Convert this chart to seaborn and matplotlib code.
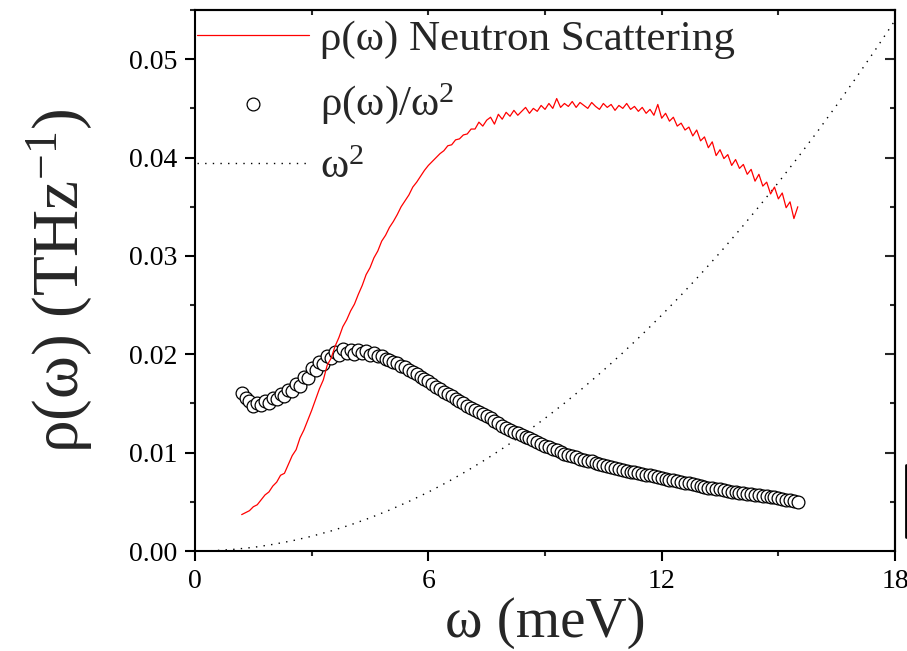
import matplotlib
matplotlib.use('Agg')
import matplotlib.pyplot as plt
import seaborn as sns
import numpy as np
from matplotlib.lines import Line2D
from matplotlib.ticker import MultipleLocator

# energy grid (meV)
omega = [1.2, 1.3, 1.4, 1.5, 1.6, 1.7, 1.8, 1.9, 2.0, 2.1,
         2.2, 2.3, 2.4, 2.5, 2.6, 2.7, 2.8, 2.9, 3.0, 3.1,
         3.2, 3.3, 3.4, 3.5, 3.6, 3.7, 3.8, 3.9, 4.0, 4.1,
         4.2, 4.3, 4.4, 4.5, 4.6, 4.7, 4.8, 4.9, 5.0, 5.1,
         5.2, 5.3, 5.4, 5.5, 5.6, 5.7, 5.8, 5.9, 6.0, 6.1,
         6.2, 6.3, 6.4, 6.5, 6.6, 6.7, 6.8, 6.9, 7.0, 7.1,
         7.2, 7.3, 7.4, 7.5, 7.6, 7.7, 7.8, 7.9, 8.0, 8.1,
         8.2, 8.3, 8.4, 8.5, 8.6, 8.7, 8.8, 8.9, 9.0, 9.1,
         9.2, 9.3, 9.4, 9.5, 9.6, 9.7, 9.8, 9.9, 10.0, 10.1,
         10.2, 10.3, 10.4, 10.5, 10.6, 10.7, 10.8, 10.9, 11.0, 11.1,
         11.2, 11.3, 11.4, 11.5, 11.6, 11.7, 11.8, 11.9, 12.0, 12.1,
         12.2, 12.3, 12.4, 12.5, 12.6, 12.7, 12.8, 12.9, 13.0, 13.1,
         13.2, 13.3, 13.4, 13.5, 13.6, 13.7, 13.8, 13.9, 14.0, 14.1,
         14.2, 14.3, 14.4, 14.5, 14.6, 14.7, 14.8, 14.9, 15.0, 15.1,
         15.2, 15.3, 15.4, 15.5]

# rho(omega) neutron scattering
rho = [0.0037, 0.0039, 0.0041, 0.0045, 0.0047, 0.0052, 0.0057, 0.0060, 0.0066, 0.0070,
       0.0077, 0.0079, 0.0088, 0.0097, 0.0103, 0.0115, 0.0123, 0.0133, 0.0143, 0.0154,
       0.0165, 0.0174, 0.0189, 0.0196, 0.0208, 0.0217, 0.0228, 0.0235, 0.0244, 0.0251,
       0.0261, 0.0270, 0.0281, 0.0288, 0.0298, 0.0305, 0.0315, 0.0321, 0.0329, 0.0335,
       0.0342, 0.0350, 0.0356, 0.0362, 0.0370, 0.0375, 0.0381, 0.0387, 0.0392, 0.0396,
       0.0400, 0.0404, 0.0407, 0.0412, 0.0413, 0.0418, 0.0419, 0.0423, 0.0424, 0.0429,
       0.0429, 0.0436, 0.0432, 0.0438, 0.0441, 0.0434, 0.0444, 0.0439, 0.0446, 0.0442,
       0.0448, 0.0443, 0.0447, 0.0451, 0.0445, 0.0450, 0.0447, 0.0453, 0.0449, 0.0455,
       0.0450, 0.0460, 0.0451, 0.0455, 0.0452, 0.0457, 0.0451, 0.0456, 0.0453, 0.0450,
       0.0456, 0.0452, 0.0449, 0.0455, 0.0451, 0.0454, 0.0448, 0.0453, 0.0450, 0.0455,
       0.0449, 0.0452, 0.0447, 0.0451, 0.0445, 0.0449, 0.0443, 0.0454, 0.0440, 0.0445,
       0.0437, 0.0441, 0.0432, 0.0435, 0.0428, 0.0431, 0.0422, 0.0428, 0.0417, 0.0421,
       0.0410, 0.0416, 0.0402, 0.0408, 0.0399, 0.0403, 0.0392, 0.0398, 0.0389, 0.0393,
       0.0383, 0.0388, 0.0376, 0.0383, 0.0371, 0.0375, 0.0363, 0.0370, 0.0358, 0.0364,
       0.0349, 0.0355, 0.0338, 0.0350]

# rho(omega)/omega^2 (scaled)
rho_w2 = [0.0161, 0.0156, 0.0152, 0.0147, 0.0150, 0.0148, 0.0153, 0.0150, 0.0156, 0.0155,
          0.0160, 0.0158, 0.0164, 0.0163, 0.0170, 0.0168, 0.0177, 0.0176, 0.0186, 0.0184,
          0.0192, 0.0190, 0.0198, 0.0196, 0.0202, 0.0199, 0.0205, 0.0201, 0.0204, 0.0200,
          0.0204, 0.0201, 0.0203, 0.0199, 0.0201, 0.0198, 0.0198, 0.0195, 0.0194, 0.0192,
          0.0191, 0.0188, 0.0187, 0.0184, 0.0182, 0.0180, 0.0177, 0.0175, 0.0173, 0.0170,
          0.0167, 0.0165, 0.0162, 0.0160, 0.0158, 0.0155, 0.0152, 0.0150, 0.0147, 0.0145,
          0.0143, 0.0141, 0.0139, 0.0137, 0.0135, 0.0132, 0.0130, 0.0127, 0.0125, 0.0123,
          0.0121, 0.0120, 0.0118, 0.0116, 0.0115, 0.0113, 0.0111, 0.0109, 0.0107, 0.0106,
          0.0104, 0.0103, 0.0101, 0.0099, 0.0098, 0.0097, 0.0096, 0.0094, 0.0093, 0.0092,
          0.0091, 0.0089, 0.0088, 0.0087, 0.0086, 0.0085, 0.0084, 0.0083, 0.0082, 0.0081,
          0.0080, 0.0080, 0.0079, 0.0078, 0.0077, 0.0077, 0.0076, 0.0075, 0.0074, 0.0073,
          0.0072, 0.0072, 0.0071, 0.0070, 0.0069, 0.0069, 0.0068, 0.0067, 0.0066, 0.0065,
          0.0064, 0.0064, 0.0063, 0.0063, 0.0062, 0.0061, 0.0060, 0.0060, 0.0059, 0.0059,
          0.0058, 0.0058, 0.0057, 0.0057, 0.0056, 0.0056, 0.0055, 0.0055, 0.0054, 0.0053,
          0.0052, 0.0052, 0.0051, 0.0050]

# omega^2 reference curve (scaled)
w_sq_x = [0, 0.5, 1, 1.5, 2, 2.5, 3, 3.5, 4, 4.5, 5, 5.5, 6, 6.5, 7, 7.5, 8, 8.5, 9,
          9.5, 10, 10.5, 11, 11.5, 12, 12.5, 13, 13.5, 14, 14.5, 15, 15.5, 16, 16.5,
          17, 17.5, 18]
w_sq_y = [0.0, 0.00004, 0.00017, 0.00037, 0.00067, 0.00104, 0.0015, 0.00204, 0.00266,
          0.00337, 0.00416, 0.00504, 0.00599, 0.00703, 0.00816, 0.00937, 0.01066,
          0.01203, 0.01349, 0.01503, 0.01665, 0.01836, 0.02015, 0.02202, 0.02398,
          0.02602, 0.02814, 0.03034, 0.03263, 0.03501, 0.03746, 0.04000, 0.04262,
          0.04533, 0.04812, 0.05099, 0.05395]

sns.set_style('ticks')
plt.rcParams['font.family'] = ['Liberation Serif', 'DejaVu Serif']
plt.rcParams['mathtext.fontset'] = 'custom'
plt.rcParams['mathtext.rm'] = 'Liberation Serif'
plt.rcParams['mathtext.default'] = 'regular'

fig = plt.figure(figsize=(9.07, 6.51), dpi=100)
ax = fig.add_axes([0.215, 0.1536, 0.7718, 0.8310])

sns.lineplot(x=w_sq_x, y=w_sq_y, ax=ax, color='black', lw=1.0,
             linestyle=(0, (1, 4.5)), label='ω$^{2}$', estimator=None, sort=False)
sns.scatterplot(x=omega, y=rho_w2, ax=ax, marker='o', s=85, facecolor='white',
                edgecolor='black', linewidth=0.9, label='ρ(ω)/ω$^{2}$', zorder=3)
sns.lineplot(x=omega, y=rho, ax=ax, color='red', lw=0.9,
             label='ρ(ω) Neutron Scattering', estimator=None, sort=False, zorder=4)

ax.set_xlim(0, 18)
ax.set_ylim(0, 0.055)
ax.set_xticks([0, 6, 12, 18])
ax.xaxis.set_minor_locator(MultipleLocator(3))
ax.set_yticks([0.0, 0.01, 0.02, 0.03, 0.04, 0.05])
ax.set_yticklabels(['0.00', '0.01', '0.02', '0.03', '0.04', '0.05'])
ax.yaxis.set_minor_locator(MultipleLocator(0.005))
ax.tick_params(which='major', direction='out', length=7, width=1.5, labelsize=20,
               colors='black', pad=6)
ax.tick_params(which='minor', direction='out', length=3.5, width=1.5)

for sp in ax.spines.values():
    sp.set_linewidth(1.5)
    sp.set_color('black')

# inward ticks on top and right
secx = ax.secondary_xaxis('top')
secx.set_xticks([3, 6, 9, 12, 15])
secx.tick_params(direction='in', length=3.5, width=1.5, labeltop=False)
secx.spines['top'].set_linewidth(1.5)
secy = ax.secondary_yaxis('right')
secy.set_yticks([0.01, 0.02, 0.03, 0.04, 0.05])
secy.yaxis.set_minor_locator(MultipleLocator(0.005))
secy.tick_params(which='major', direction='in', length=7, width=1.5, labelright=False)
secy.tick_params(which='minor', direction='in', length=3.5, width=1.5)
secy.spines['right'].set_linewidth(1.5)

ax.set_xlabel('ω (meV)', fontsize=41, labelpad=2)
ax.set_ylabel('ρ(ω) (THz$^{-1}$)', fontsize=47, labelpad=24)

h, l = ax.get_legend_handles_labels()
order = [2, 1, 0]
ax.legend([h[i] for i in order], [l[i] for i in order], loc='upper left',
          bbox_to_anchor=(0.0, 0.985), frameon=False, fontsize=31,
          handlelength=2.6, handletextpad=0.25, labelspacing=0.5,
          borderpad=0.0, borderaxespad=0.05, markerscale=1.0)

# small stray mark at the right edge of the original
fig.add_artist(Line2D([906 / 907, 906 / 907], [1 - 465 / 651, 1 - 537 / 651],
                      color='black', lw=2.0))

fig.savefig('out.png', dpi=100)
